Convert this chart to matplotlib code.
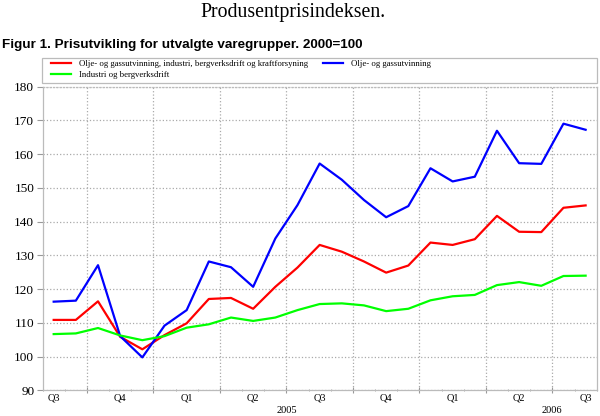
import matplotlib.pyplot as plt
from matplotlib.patches import Rectangle
import numpy as np

# monthly index values, Aug 2004 - Aug 2006 (2000=100)
total = [110.9, 110.9, 116.4, 105.9, 102.2, 106.4, 109.9, 117.1, 117.4, 114.2,
         120.7, 126.4, 133.1, 131.1, 128.2, 124.9, 127.0, 133.8, 133.1, 134.8,
         141.7, 137.0, 136.9, 144.1, 144.8]
olje = [116.3, 116.6, 127.1, 106.1, 99.8, 109.2, 113.8, 128.2, 126.5, 120.7,
        135.0, 144.9, 157.2, 152.4, 146.4, 141.3, 144.6, 155.8, 151.9, 153.3,
        166.9, 157.3, 157.1, 169.0, 167.2]
industri = [106.7, 106.9, 108.5, 106.3, 104.9, 106.1, 108.6, 109.6, 111.6, 110.6,
            111.6, 113.8, 115.6, 115.8, 115.2, 113.5, 114.2, 116.7, 117.9, 118.3,
            121.2, 122.1, 121.0, 123.9, 124.0]

quarter_labels = ['Q3', 'Q4', 'Q1', 'Q2', 'Q3', 'Q4', 'Q1', 'Q2', 'Q3']
quarter_pos = [0, 3, 6, 9, 12, 15, 18, 21, 24]
year_labels = ['2005', '2006']
year_pos = [10.5, 22.5]

names = ['Olje- og gassutvinning, industri, bergverksdrift og kraftforsyning',
         'Olje- og gassutvinning',
         'Industri og bergverksdrift']

serif = 'Liberation Serif'
x = np.arange(len(total))

fig = plt.figure(figsize=(6, 4.16), dpi=100)
ax = fig.add_axes([0.071, 0.0613, 0.9235, 0.7307])

l1, = ax.plot(x, total, color='#ff0000', lw=1.6)
l2, = ax.plot(x, olje, color='#0000ff', lw=1.6)
l3, = ax.plot(x, industri, color='#00ff00', lw=1.6)

ax.set_xlim(-0.5, 24.5)
ax.set_ylim(90, 180)
ax.set_yticks(range(90, 181, 10))
ax.set_yticklabels([str(v) for v in range(90, 181, 10)], fontfamily=serif, fontsize=9.5)

ax.set_xticks(np.arange(1.5, 24, 3))
ax.set_xticks(np.arange(-0.5, 24.6, 1), minor=True)
ax.set_xticklabels([])
ax.tick_params(axis='x', which='major', length=5, color='#999999', direction='inout')
ax.tick_params(axis='x', which='minor', length=2, color='#999999', direction='inout')
ax.tick_params(axis='y', length=4, color='#999999', pad=2)

ax.grid(True, which='major', linestyle=':', color='#aaaaaa', lw=0.9)
for s in ax.spines.values():
    s.set_color('#bbbbbb')
    s.set_linewidth(0.9)
ax.spines['top'].set_linestyle(':')

tr = ax.get_xaxis_transform()
for p, lab in zip(quarter_pos, quarter_labels):
    ax.text(p, -0.024, lab, transform=tr, ha='center', va='center',
            fontfamily=serif, fontsize=7.5)
for p, lab in zip(year_pos, year_labels):
    ax.text(p, -0.066, lab, transform=tr, ha='center', va='center',
            fontfamily=serif, fontsize=7.5)

fig.text(0.488, 0.969, 'Produsentprisindeksen.', ha='center', va='center',
         fontfamily=serif, fontsize=14.3)
fig.text(0.004, 0.893, 'Figur 1. Prisutvikling for utvalgte varegrupper. 2000=100',
         ha='left', va='center', fontfamily='Liberation Sans', fontweight='bold',
         fontsize=9.7)

# legend box above the plot
fig.patches.append(Rectangle((0.070, 0.8012), 0.925, 0.0594, transform=fig.transFigure,
                             fill=False, edgecolor='#bbbbbb', lw=0.9))
leg = fig.legend([l1, l3, l2], [names[0], names[2], names[1]], loc='upper left',
                 bbox_to_anchor=(0.0815, 0.861), ncol=2,
                 prop={'family': serif, 'size': 6.3}, frameon=False,
                 borderaxespad=0, borderpad=0.25, handlelength=2.3,
                 handletextpad=0.9, labelspacing=0.35, columnspacing=1.7)

fig.savefig('out.png', dpi=100)
